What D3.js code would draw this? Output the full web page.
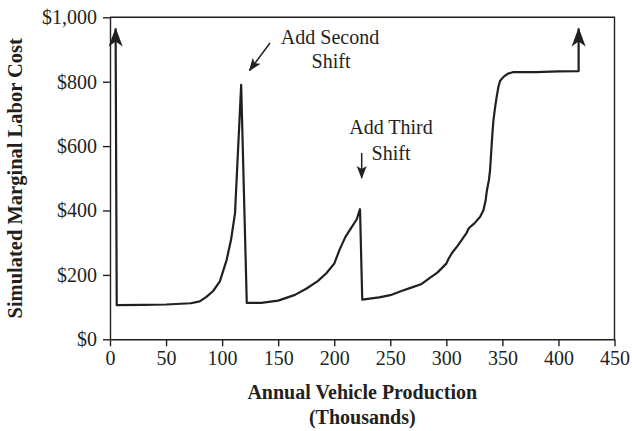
<!DOCTYPE html>
<html><head><meta charset="utf-8">
<script src="https://cdn.jsdelivr.net/npm/d3@7"></script>
<style>
body{margin:0;background:#fff;}
text{font-family:"Liberation Serif","DejaVu Serif",serif;fill:#231f20;}
</style></head>
<body><svg id="c" width="632" height="431"></svg>
<script>
const xTicks = [0,50,100,150,200,250,300,350,400,450];
const yTicks = [0,200,400,600,800,1000];
const yTickLabels = ["$0","$200","$400","$600","$800","$1,000"];
const production = [5,6,30,50,72,80,86,92,98,104,108,111.5,117,122,135,150,165,175,185,193,200,205,210,215,220,223,225,240,250,260,270,278,285,292,300,302,305,310,315,318,320,325,330,333,335,336,338,339,340,341,342,343.5,345,346.5,348,351,355,360,380,400,418,418];
const laborCost  = [965,106,107,108,112,118,132,150,180,246,310,391,790,113,113,120,138,157,180,205,235,280,318,345,372,404,123,130,137,150,162,172,190,207,235,250,268,290,315,330,345,360,380,400,430,458,495,525,580,635,680,720,755,785,803,815,825,830,830,832,833,965];
const xTitle = ["Annual Vehicle Production","(Thousands)"];
const yTitle = "Simulated Marginal Labor Cost";

const svg = d3.select("#c");
const x = d3.scaleLinear().domain([0,450]).range([110,614.5]);
const y = d3.scaleLinear().domain([0,1000]).range([339.3,17.3]);
const ink = "#231f20";

// frame (top and right)
svg.append("path").attr("d",`M${x(0)},${y(1000)}H${x(450)}V${y(0)}`)
  .attr("fill","none").attr("stroke",ink).attr("stroke-width",1.4);

const xa = svg.append("g").attr("transform",`translate(0,${y(0)})`)
  .call(d3.axisBottom(x).tickValues(xTicks).tickSize(7).tickPadding(5).tickSizeOuter(0));
const ya = svg.append("g").attr("transform",`translate(${x(0)},0)`)
  .call(d3.axisLeft(y).tickValues(yTicks).tickFormat((d,i)=>yTickLabels[i]).tickSize(7).tickPadding(6).tickSizeOuter(0));
[xa,ya].forEach(a=>{
  a.select(".domain").attr("stroke",ink).attr("stroke-width",1.4);
  a.selectAll(".tick line").attr("stroke",ink).attr("stroke-width",1.4);
  a.selectAll("text").attr("font-size",20).attr("font-family",null).style("fill",ink);
});

// markers
const defs = svg.append("defs");
defs.append("marker").attr("id","ah").attr("markerUnits","userSpaceOnUse")
  .attr("viewBox","-20 -8 22 16").attr("markerWidth",22).attr("markerHeight",16)
  .attr("refX",0).attr("refY",0).attr("orient","auto-start-reverse")
  .append("path").attr("d","M1,0 L-18,-7 L-13,0 L-18,7 Z").attr("fill",ink);
defs.append("marker").attr("id","sa").attr("markerUnits","userSpaceOnUse")
  .attr("viewBox","-14 -6 16 12").attr("markerWidth",16).attr("markerHeight",12)
  .attr("refX",0).attr("refY",0).attr("orient","auto")
  .append("path").attr("d","M1,0 L-12,-5 L-9,0 L-12,5 Z").attr("fill",ink);

const pts = production.map((p,i)=>[p,laborCost[i]]);
svg.append("path").datum(pts)
  .attr("d",d3.line().x(d=>x(d[0])).y(d=>y(d[1])))
  .attr("fill","none").attr("stroke",ink).attr("stroke-width",2.2)
  .attr("stroke-linejoin","round")
  .attr("marker-start","url(#ah)").attr("marker-end","url(#ah)");

// annotations
const ann = svg.append("g").attr("font-size",20).attr("text-anchor","middle");
ann.append("text").attr("x",330).attr("y",44).text("Add Second");
ann.append("text").attr("x",331).attr("y",68).text("Shift");
ann.append("text").attr("x",391).attr("y",134).text("Add Third");
ann.append("text").attr("x",391).attr("y",160).text("Shift");
svg.append("line").attr("x1",270).attr("y1",43).attr("x2",249.5).attr("y2",70.5)
  .attr("stroke",ink).attr("stroke-width",1.5).attr("marker-end","url(#sa)");
svg.append("line").attr("x1",361.7).attr("y1",153).attr("x2",361.7).attr("y2",178)
  .attr("stroke",ink).attr("stroke-width",1.5).attr("marker-end","url(#sa)");

// titles
const cx = (x(0)+x(450))/2;
svg.append("text").attr("x",cx).attr("y",399).attr("text-anchor","middle")
  .attr("font-size",20).attr("font-weight","bold").text(xTitle[0]);
svg.append("text").attr("x",cx).attr("y",424).attr("text-anchor","middle")
  .attr("font-size",20).attr("font-weight","bold").text(xTitle[1]);
svg.append("text").attr("transform",`translate(22,${(y(0)+y(1000))/2}) rotate(-90)`)
  .attr("text-anchor","middle").attr("font-size",20.5).attr("font-weight","bold").text(yTitle);
</script></body></html>
